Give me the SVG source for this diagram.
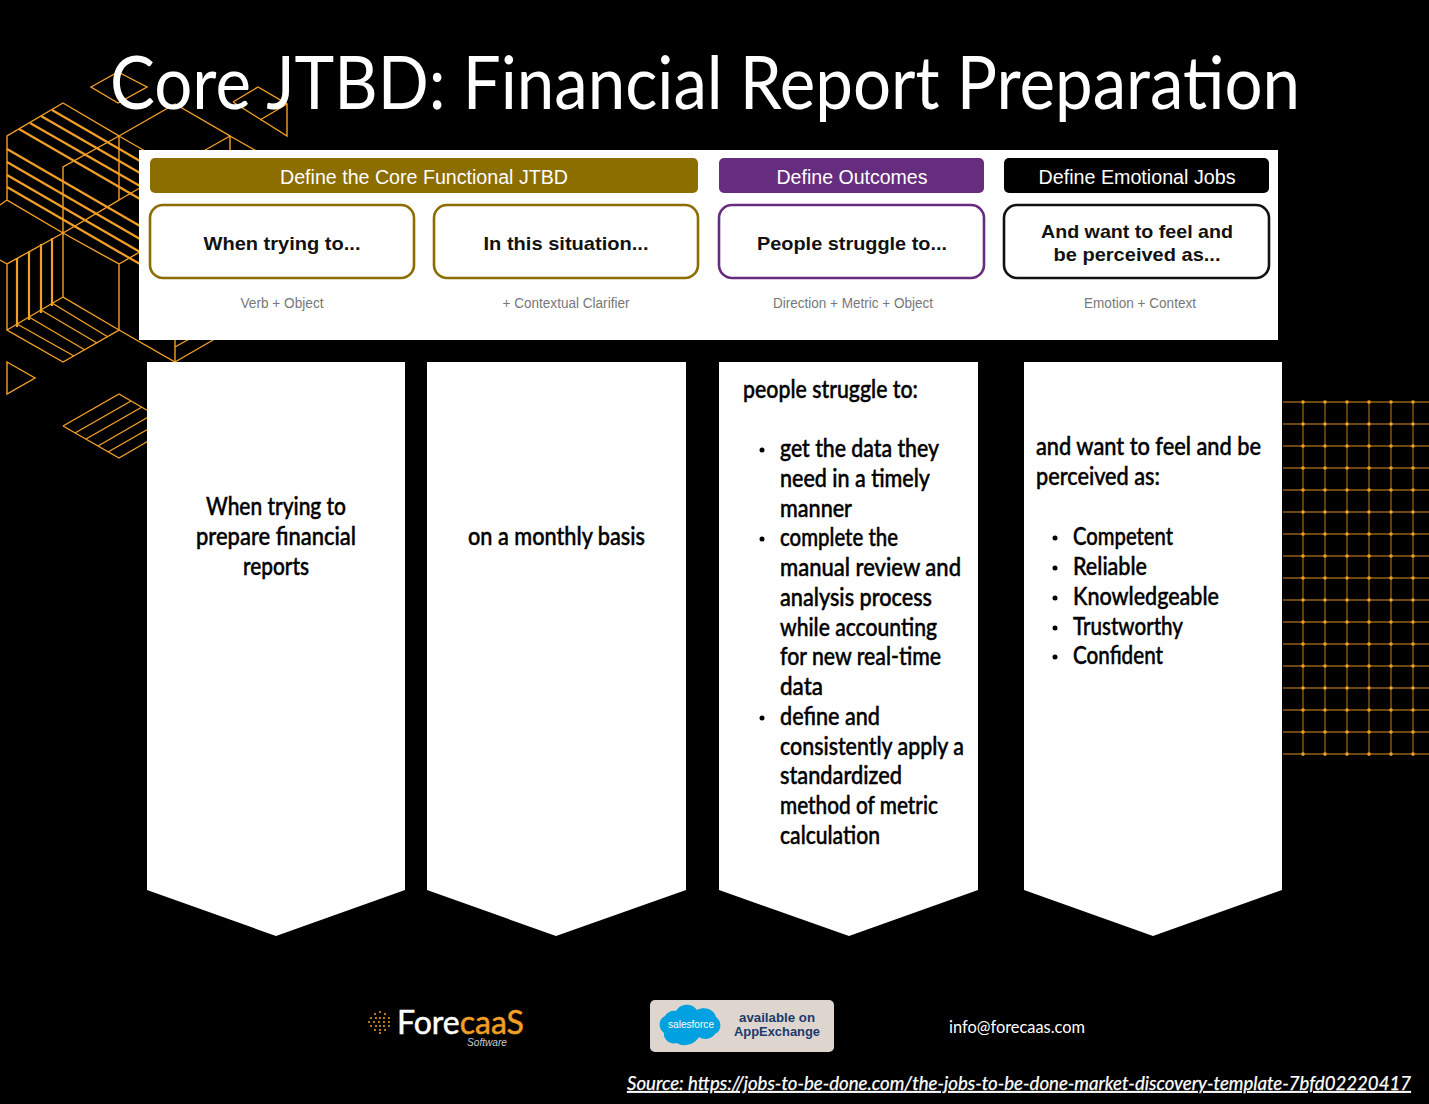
<svg xmlns="http://www.w3.org/2000/svg" width="1429" height="1104" viewBox="0 0 1429 1104">
<style>
.o{fill:none;stroke:#F29F26;stroke-width:1.4}
.h{fill:none;stroke:#F29F26;stroke-width:2.2}
.bar{font:20px "Liberation Sans",Arial,sans-serif;fill:#fff;text-anchor:middle}
.bx{font:bold 19px "Liberation Sans",Arial,sans-serif;fill:#111;text-anchor:middle}
.sub{font:14px "Liberation Sans",Arial,sans-serif;fill:#777;text-anchor:middle}
.t{font:500 24px Lato,"Liberation Sans",sans-serif;fill:#000;stroke:#000;stroke-width:.45;transform:translateY(.7px)}
.box{fill:#fff;stroke-width:2.6}
.col{fill:#fff}
</style>
<defs>
<pattern id="gd" x="1292" y="391" width="22" height="22" patternUnits="userSpaceOnUse"><circle cx="11" cy="11" r="1.8" fill="#F29F26"/></pattern>
</defs>
<rect width="1429" height="1104" fill="#000"/>
<g id="decor-hex">
<path class="o" d="M63 103L119 136V200L63 233L7 200V136ZM119 136L63 167V233M119 136L175 104L230 136V160M119 136L145 151M230 136L200 153M230 136L260 153M7 200L0 205M119 200L145 185M0 260L7 264M63 233L119 264V330L63 362L7 330V264L63 233M63 233V297L119 330M63 297L7 330M119 264L145 249M119 330L175 362V335M175 362L220 336M175 347L200 333M91 87L118 72L147 87L118 103ZM233 102L258 87L287 104V136L233 102M287 104L260 120M7 362L35 378L7 394ZM63 426L119 394L150 412M63 426L119 458L150 440M75 433L131 401M86 439L142 407M98 446L150 416M108 452L150 428"/>
<path class="h" d="M52 110L140 161M41 116L140 173M30 123L140 186M19 129L140 199M7 149L140 226M7 162L140 239M7 175L140 252M7 187L119 252L140 264M17 327V258M29 320V251M41 313V244M52 306V238"/>
<path class="o" d="M17 324L74 356M29 317L85 350M41 310L97 343M52 303L108 337"/>
</g>
<g id="decor-grid">
<path fill="none" stroke="#F29F26" stroke-width="1.3" opacity=".6" d="M1283 402H1429M1283 424H1429M1283 446H1429M1283 468H1429M1283 490H1429M1283 512H1429M1283 534H1429M1283 556H1429M1283 578H1429M1283 600H1429M1283 622H1429M1283 644H1429M1283 666H1429M1283 688H1429M1283 710H1429M1283 732H1429M1283 754H1429M1303 402V756M1325 402V756M1347 402V756M1369 402V756M1391 402V756M1413 402V756"/>
<rect x="1292" y="391" width="132" height="374" fill="url(#gd)"/>
</g>
<g id="framework-card">
<rect x="139" y="150" width="1139" height="190" fill="#fff"/>
<g id="bar-core"><rect x="150" y="158" width="548" height="35" rx="5" fill="#8C6D00"/><text class="bar" x="424" y="184" textLength="288" lengthAdjust="spacingAndGlyphs">Define the Core Functional JTBD</text></g>
<g id="bar-outcomes"><rect x="719" y="158" width="265" height="35" rx="5" fill="#662D7F"/><text class="bar" x="852" y="184" textLength="151" lengthAdjust="spacingAndGlyphs">Define Outcomes</text></g>
<g id="bar-emotional"><rect x="1004" y="158" width="265" height="35" rx="5" fill="#000"/><text class="bar" x="1137" y="184" textLength="197" lengthAdjust="spacingAndGlyphs">Define Emotional Jobs</text></g>
<g id="box-when"><rect class="box" x="150" y="205" width="264" height="73" rx="13" stroke="#8C6D00"/><text class="bx" x="282" y="250" textLength="157" lengthAdjust="spacingAndGlyphs">When trying to...</text><text class="sub" x="282" y="308" textLength="83" lengthAdjust="spacingAndGlyphs">Verb + Object</text></g>
<g id="box-situation"><rect class="box" x="434" y="205" width="264" height="73" rx="13" stroke="#8C6D00"/><text class="bx" x="566" y="250" textLength="165" lengthAdjust="spacingAndGlyphs">In this situation...</text><text class="sub" x="566" y="308" textLength="127" lengthAdjust="spacingAndGlyphs">+ Contextual Clarifier</text></g>
<g id="box-struggle"><rect class="box" x="719" y="205" width="265" height="73" rx="13" stroke="#662D7F"/><text class="bx" x="852" y="250" textLength="190" lengthAdjust="spacingAndGlyphs">People struggle to...</text><text class="sub" x="853" y="308" textLength="160" lengthAdjust="spacingAndGlyphs">Direction + Metric + Object</text></g>
<g id="box-feel"><rect class="box" x="1004" y="205" width="265" height="73" rx="13" stroke="#111"/><text class="bx" x="1137" y="238" textLength="192" lengthAdjust="spacingAndGlyphs">And want to feel and</text><text class="bx" x="1137" y="261" textLength="167" lengthAdjust="spacingAndGlyphs">be perceived as...</text><text class="sub" x="1140" y="308" textLength="112" lengthAdjust="spacingAndGlyphs">Emotion + Context</text></g>
</g>
<g id="col-1"><path class="col" d="M147 362H405V890L276 936L147 890Z"/>
<text class="t" x="206" y="514" textLength="140" lengthAdjust="spacingAndGlyphs">When trying to</text>
<text class="t" x="196" y="544" textLength="160" lengthAdjust="spacingAndGlyphs">prepare financial</text>
<text class="t" x="243" y="574" textLength="66" lengthAdjust="spacingAndGlyphs">reports</text></g>
<g id="col-2"><path class="col" d="M427 362H686V890L556 936L427 890Z"/>
<text class="t" x="468" y="544" textLength="177" lengthAdjust="spacingAndGlyphs">on a monthly basis</text></g>
<g id="col-3"><path class="col" d="M719 362H978V890L849 936L719 890Z"/>
<text class="t" x="743" y="397" textLength="175" lengthAdjust="spacingAndGlyphs">people struggle to:</text>
<circle cx="762" cy="450" r="2.5"/><circle cx="762" cy="539" r="2.5"/><circle cx="762" cy="718" r="2.5"/>
<text class="t" x="780" y="456" textLength="159" lengthAdjust="spacingAndGlyphs">get the data they</text>
<text class="t" x="780" y="486" textLength="150" lengthAdjust="spacingAndGlyphs">need in a timely</text>
<text class="t" x="780" y="516" textLength="72" lengthAdjust="spacingAndGlyphs">manner</text>
<text class="t" x="780" y="545" textLength="118" lengthAdjust="spacingAndGlyphs">complete the</text>
<text class="t" x="780" y="575" textLength="181" lengthAdjust="spacingAndGlyphs">manual review and</text>
<text class="t" x="780" y="605" textLength="152" lengthAdjust="spacingAndGlyphs">analysis process</text>
<text class="t" x="780" y="635" textLength="157" lengthAdjust="spacingAndGlyphs">while accounting</text>
<text class="t" x="780" y="664" textLength="161" lengthAdjust="spacingAndGlyphs">for new real-time</text>
<text class="t" x="780" y="694" textLength="43" lengthAdjust="spacingAndGlyphs">data</text>
<text class="t" x="780" y="724" textLength="100" lengthAdjust="spacingAndGlyphs">define and</text>
<text class="t" x="780" y="754" textLength="184" lengthAdjust="spacingAndGlyphs">consistently apply a</text>
<text class="t" x="780" y="783" textLength="122" lengthAdjust="spacingAndGlyphs">standardized</text>
<text class="t" x="780" y="813" textLength="158" lengthAdjust="spacingAndGlyphs">method of metric</text>
<text class="t" x="780" y="843" textLength="100" lengthAdjust="spacingAndGlyphs">calculation</text></g>
<g id="col-4"><path class="col" d="M1024 362H1282V890L1153 936L1024 890Z"/>
<text class="t" x="1036" y="454" textLength="225" lengthAdjust="spacingAndGlyphs">and want to feel and be</text>
<text class="t" x="1036" y="484" textLength="124" lengthAdjust="spacingAndGlyphs">perceived as:</text>
<circle cx="1055" cy="538" r="2.5"/><circle cx="1055" cy="568" r="2.5"/><circle cx="1055" cy="598" r="2.5"/><circle cx="1055" cy="628" r="2.5"/><circle cx="1055" cy="657" r="2.5"/>
<text class="t" x="1073" y="544" textLength="100" lengthAdjust="spacingAndGlyphs">Competent</text>
<text class="t" x="1073" y="574" textLength="74" lengthAdjust="spacingAndGlyphs">Reliable</text>
<text class="t" x="1073" y="604" textLength="146" lengthAdjust="spacingAndGlyphs">Knowledgeable</text>
<text class="t" x="1073" y="634" textLength="110" lengthAdjust="spacingAndGlyphs">Trustworthy</text>
<text class="t" x="1073" y="663" textLength="90" lengthAdjust="spacingAndGlyphs">Confident</text></g>
<g id="title"><text x="110" y="109" font-family="Lato,'Liberation Sans',sans-serif" font-size="74" fill="#fff" textLength="1190" lengthAdjust="spacingAndGlyphs">Core JTBD: Financial Report Preparation</text></g>
<g id="logo-forecaas">
<g fill="#F29F26"><circle cx="380" cy="1012" r="1"/><circle cx="375" cy="1014" r="1"/><circle cx="385" cy="1014" r="1"/><circle cx="371" cy="1018" r="1"/><circle cx="376" cy="1018" r="1"/><circle cx="380" cy="1018" r="1"/><circle cx="384" cy="1018" r="1"/><circle cx="389" cy="1018" r="1"/><circle cx="369" cy="1022" r="1"/><circle cx="374" cy="1022" r="1"/><circle cx="379" cy="1022" r="1"/><circle cx="384" cy="1022" r="1"/><circle cx="389" cy="1022" r="1"/><circle cx="371" cy="1026" r="1"/><circle cx="376" cy="1026" r="1"/><circle cx="380" cy="1026" r="1"/><circle cx="384" cy="1026" r="1"/><circle cx="389" cy="1026" r="1"/><circle cx="375" cy="1030" r="1"/><circle cx="380" cy="1030" r="1"/><circle cx="385" cy="1030" r="1"/><circle cx="380" cy="1033" r="1"/></g>
<text x="397" y="1034" font-family="Lato,'Liberation Sans',sans-serif" font-size="32" stroke-width=".5" textLength="127" lengthAdjust="spacingAndGlyphs"><tspan fill="#fff" stroke="#fff">Fore</tspan><tspan fill="#F29F26" stroke="#F29F26">caaS</tspan></text>
<text x="467" y="1046" font-family="'Liberation Sans',sans-serif" font-style="italic" font-size="11" fill="#ccc" textLength="40" lengthAdjust="spacingAndGlyphs">Software</text>
</g>
<g id="badge-appexchange">
<rect x="650" y="1000" width="184" height="52" rx="5" fill="#DDD5CE"/>
<path fill="#00A1E0" d="M676 1011C681 1003 692 1003 697 1010C704 1006 714 1009 716 1017C722 1021 722 1031 715 1034C711 1040 703 1040 699 1037C695 1044 684 1048 677 1043C671 1045 663 1040 664 1033C658 1029 658 1019 665 1016C667 1012 672 1010 676 1011Z"/>
<text x="691" y="1028" font-family="'Liberation Sans',sans-serif" font-size="10.5" fill="#fff" text-anchor="middle" textLength="46" lengthAdjust="spacingAndGlyphs">salesforce</text>
<text x="777" y="1022" font-family="'Liberation Sans',sans-serif" font-weight="bold" font-size="12.5" fill="#1B3A6B" text-anchor="middle" textLength="76" lengthAdjust="spacingAndGlyphs">available on</text>
<text x="777" y="1036" font-family="'Liberation Sans',sans-serif" font-weight="bold" font-size="13" fill="#1B3A6B" text-anchor="middle" textLength="86" lengthAdjust="spacingAndGlyphs">AppExchange</text>
</g>
<g id="contact"><text x="949" y="1033" font-family="Lato,'Liberation Sans',sans-serif" font-size="17" fill="#fff" textLength="136" lengthAdjust="spacingAndGlyphs">info@forecaas.com</text></g>
<g id="source"><text x="627" y="1090" font-family="Lato,'Liberation Sans',sans-serif" font-style="italic" font-size="19" fill="#fff" stroke="#fff" stroke-width=".25" text-decoration="underline" textLength="784" lengthAdjust="spacingAndGlyphs">Source: https://jobs-to-be-done.com/the-jobs-to-be-done-market-discovery-template-7bfd02220417</text></g>
</svg>
